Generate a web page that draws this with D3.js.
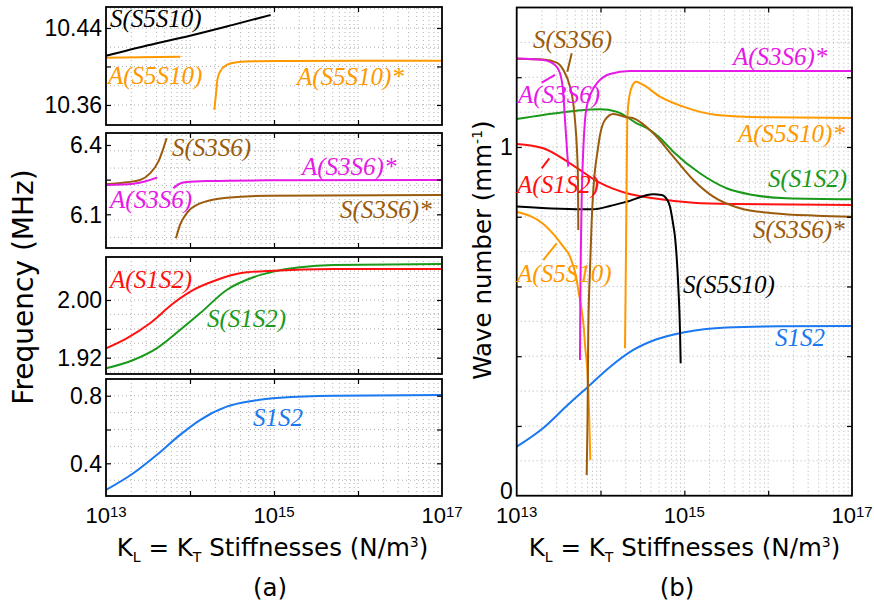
<!DOCTYPE html>
<html><head><meta charset="utf-8">
<script src="https://cdn.jsdelivr.net/npm/d3@7"></script>
<style>body{margin:0;background:#fff;} svg{display:block;}</style>
</head><body>
<svg id="chart" width="874" height="605"></svg>
<script>
// ---------- DATA: panel (a) frequency (MHz) vs log10(K) ----------
const xTickExp = [13, 14, 15, 16, 17];
const xTickLabels = ["13", "", "15", "", "17"];

// sub-panel 1 (~10.4 MHz)
const a1Ticks = [10.36, 10.40, 10.44];
const a1TickLabels = ["10.36", "", "10.44"];
const a1_S_S5S10_k = [13.0, 13.5, 14.0, 14.5, 14.96];
const a1_S_S5S10_f = [10.411, 10.422, 10.432, 10.443, 10.4535];
const a1_A_S5S10_k = [13.0, 13.4, 13.885];
const a1_A_S5S10_f = [10.409, 10.4095, 10.410];
const a1_A_S5S10s_k = [14.29, 14.31, 14.326, 14.357, 14.437, 14.556, 14.754, 15.111, 16.0, 17.0];
const a1_A_S5S10s_f = [10.355, 10.372, 10.386, 10.3946, 10.4016, 10.4044, 10.4054, 10.4057, 10.406, 10.406];

// sub-panel 2 (~6.2 MHz)
const a2Ticks = [6.1, 6.25, 6.4];
const a2TickLabels = ["6.1", "", "6.4"];
const a2_S_S3S6_k = [13.0, 13.246, 13.405, 13.524, 13.623, 13.683, 13.722];
const a2_S_S3S6_f = [6.230, 6.2385, 6.2485, 6.2773, 6.3278, 6.3855, 6.429];
const a2_A_S3S6_k = [13.0, 13.325, 13.484, 13.611];
const a2_A_S3S6_f = [6.2268, 6.2326, 6.2441, 6.260];
const a2_A_S3S6s_k = [13.802, 13.861, 13.960, 14.198, 14.913, 17.0];
const a2_A_S3S6s_f = [6.2124, 6.230, 6.240, 6.244, 6.247, 6.2485];
const a2_S_S3S6s_k = [13.833, 13.881, 13.960, 14.119, 14.437, 14.913, 17.0];
const a2_S_S3S6s_f = [5.996, 6.054, 6.104, 6.147, 6.172, 6.1805, 6.1835];

// sub-panel 3 (~2 MHz)
const a3Ticks = [1.92, 1.96, 2.00];
const a3TickLabels = ["1.92", "", "2.00"];
const a3_A_S1S2_k = [13.0, 13.246, 13.524, 13.802, 14.040, 14.317, 14.595, 14.992, 15.706, 17.0];
const a3_A_S1S2_f = [1.9330, 1.9469, 1.9677, 1.9954, 2.0139, 2.0277, 2.0370, 2.0407, 2.0430, 2.0430];
const a3_S_S1S2_k = [13.0, 13.325, 13.603, 13.881, 14.119, 14.437, 14.754, 14.992, 15.310, 15.706, 17.0];
const a3_S_S1S2_f = [1.9052, 1.9168, 1.9330, 1.9584, 1.9815, 2.0139, 2.0315, 2.0393, 2.0453, 2.0485, 2.0499];

// sub-panel 4 (~0.6 MHz)
const a4Ticks = [0.4, 0.6, 0.8];
const a4TickLabels = ["0.4", "", "0.8"];
const a4_S1S2_k = [13.0, 13.325, 13.603, 13.881, 14.119, 14.437, 14.754, 15.071, 15.706, 17.0];
const a4_S1S2_f = [0.242, 0.341, 0.449, 0.568, 0.656, 0.735, 0.770, 0.788, 0.800, 0.804];

// ---------- DATA: panel (b) wave number (1/mm) vs log10(K) ----------
const bTicks = [0, 0.2, 0.4, 0.6, 0.8, 1.0, 1.2];
const bTickLabels = ["0", "", "", "", "", "1", ""];
const b_A_S3S6_k = [13.0, 13.317, 13.457, 13.517, 13.556, 13.576, 13.603, 13.615];
const b_A_S3S6_v = [1.254, 1.2495, 1.2348, 1.2114, 1.1541, 1.0774, 0.982, 0.9435];
const b_A_S3S6s_k = [13.755, 13.759, 13.765, 13.775, 13.794, 13.815, 13.835, 13.895, 13.973, 14.113, 14.351, 15.187, 17.0];
const b_A_S3S6s_v = [0.389, 0.5612, 0.7046, 0.848, 0.9914, 1.0774, 1.1156, 1.1586, 1.1873, 1.2094, 1.218, 1.218, 1.218];
const b_S_S3S6_k = [13.0, 13.317, 13.477, 13.556, 13.636, 13.675, 13.695, 13.719, 13.731, 13.735];
const b_S_S3S6_v = [1.2532, 1.2509, 1.2418, 1.2208, 1.1729, 1.1253, 1.0774, 0.9914, 0.9054, 0.762];
const b_S_S3S6s_k = [13.835, 13.845, 13.854, 13.874, 13.895, 13.914, 13.934, 13.961, 13.994, 14.053, 14.152, 14.312, 14.391, 14.630, 14.868, 15.107, 15.345, 15.664, 16.061, 16.579, 17.0];
const b_S_S3S6s_v = [0.0594, 0.2171, 0.4752, 0.6473, 0.7906, 0.8767, 0.934, 0.9819, 1.0344, 1.0774, 1.0946, 1.0852, 1.0823, 1.0393, 0.9722, 0.9054, 0.8575, 0.8242, 0.8099, 0.803, 0.8001];
const b_S_S1S2_k = [13.0, 13.317, 13.716, 13.994, 14.193, 14.432, 14.590, 14.710, 14.868, 15.186, 15.504, 15.822, 16.221, 17.0];
const b_S_S1S2_v = [1.0803, 1.0918, 1.1041, 1.1081, 1.1012, 1.068, 1.0488, 1.0258, 0.9865, 0.9246, 0.8816, 0.8623, 0.8529, 0.85];
const b_A_S1S2_k = [13.0, 13.317, 13.636, 13.994, 14.312, 14.630, 15.107, 15.584, 17.0];
const b_A_S1S2_v = [1.0086, 0.9963, 0.9533, 0.8968, 0.8672, 0.8529, 0.8403, 0.8365, 0.8337];
const b_S_S5S10_k = [13.0, 13.517, 13.914, 14.113, 14.312, 14.630, 14.730, 14.789, 14.829, 14.868, 14.888, 14.928, 14.948, 14.956];
const b_S_S5S10_v = [0.8294, 0.8228, 0.8213, 0.8308, 0.8431, 0.8644, 0.8624, 0.8509, 0.8288, 0.7763, 0.7428, 0.5994, 0.4752, 0.3797];
const b_A_S5S10_k = [13.0, 13.317, 13.556, 13.636, 13.716, 13.735, 13.775, 13.803, 13.815, 13.842, 13.866, 13.878];
const b_A_S5S10_v = [0.8145, 0.7792, 0.7141, 0.6854, 0.6186, 0.5899, 0.5326, 0.4752, 0.4322, 0.3605, 0.2171, 0.1024];
const b_A_S5S10s_k = [14.292, 14.304, 14.312, 14.319, 14.343, 14.384, 14.423, 14.510, 14.709, 14.987, 15.386, 15.982, 17.0];
const b_A_S5S10s_v = [0.4227, 0.7046, 0.9054, 1.0774, 1.1443, 1.1778, 1.1873, 1.1778, 1.1443, 1.1156, 1.0918, 1.0852, 1.0832];
const b_S1S2_k = [13.0, 13.317, 13.596, 13.835, 14.113, 14.391, 14.670, 14.987, 15.505, 16.141, 17.0];
const b_S1S2_v = [0.1405, 0.1941, 0.2572, 0.3089, 0.3691, 0.4179, 0.4485, 0.468, 0.4824, 0.4858, 0.4867];

// ---------- STYLE ----------
const C = {black:"#000000", orange:"#ff9900", magenta:"#e619e6", brown:"#9a5b0c", red:"#ff1111", green:"#1a991a", blue:"#1a78f0"};
const SANS = "'DejaVu Sans', sans-serif";
const TICKF = "'Liberation Sans', Arial, sans-serif";
const SERIF = "'Liberation Serif', 'DejaVu Serif', serif";

const svg = d3.select("#chart");
const zip = (k, v) => k.map((d, i) => ({k: d, v: v[i]}));

// ---------- panel definitions ----------
const xA = d3.scaleLinear().domain([13, 17]).range([106, 442]);
const xB = d3.scaleLinear().domain([13, 17]).range([516.7, 852]);

const panels = [
  {x: xA, y: d3.scaleLinear().domain([10.3392, 10.4618]).range([125, 7]), ticks: a1Ticks, tl: a1TickLabels, gstep: 0.02, xlabels: false,
   series: [
     {c: C.black, d: zip(a1_S_S5S10_k, a1_S_S5S10_f)},
     {c: C.orange, d: zip(a1_A_S5S10_k, a1_A_S5S10_f)},
     {c: C.orange, d: zip(a1_A_S5S10s_k, a1_A_S5S10s_f)}],
   labels: [
     {t: "S(S5S10)", c: C.black, k: 13.048, v: 10.441},
     {t: "A(S5S10)", c: C.orange, k: 13.024, v: 10.3818},
     {t: "A(S5S10)*", c: C.orange, k: 15.274, v: 10.3803}]},
  {x: xA, y: d3.scaleLinear().domain([5.9541, 6.4519]).range([248, 133]), ticks: a2Ticks, tl: a2TickLabels, gstep: 0.075, xlabels: false,
   series: [
     {c: C.brown, d: zip(a2_S_S3S6_k, a2_S_S3S6_f)},
     {c: C.brown, d: zip(a2_S_S3S6s_k, a2_S_S3S6s_f)},
     {c: C.magenta, d: zip(a2_A_S3S6_k, a2_A_S3S6_f)},
     {c: C.magenta, d: zip(a2_A_S3S6s_k, a2_A_S3S6s_f)}],
   labels: [
     {t: "S(S3S6)", c: C.brown, k: 13.786, v: 6.3545},
     {t: "A(S3S6)*", c: C.magenta, k: 15.333, v: 6.268},
     {t: "A(S3S6)", c: C.magenta, k: 13.048, v: 6.1294},
     {t: "S(S3S6)*", c: C.brown, k: 15.786, v: 6.0818}]},
  {x: xA, y: d3.scaleLinear().domain([1.8974, 2.0596]).range([374, 257]), ticks: a3Ticks, tl: a3TickLabels, gstep: 0.02, xlabels: false,
   series: [
     {c: C.green, d: zip(a3_S_S1S2_k, a3_S_S1S2_f)},
     {c: C.red, d: zip(a3_A_S1S2_k, a3_A_S1S2_f)}],
   labels: [
     {t: "A(S1S2)", c: C.red, k: 13.048, v: 2.016},
     {t: "S(S1S2)", c: C.green, k: 14.202, v: 1.9619}]},
  {x: xA, y: d3.scaleLinear().domain([0.2065, 0.8988]).range([496, 379]), ticks: a4Ticks, tl: a4TickLabels, gstep: 0.1, xlabels: true,
   series: [
     {c: C.blue, d: zip(a4_S1S2_k, a4_S1S2_f)}],
   labels: [
     {t: "S1S2", c: C.blue, k: 14.75, v: 0.6207}]},
  {x: xB, y: d3.scaleLinear().domain([0, 1.4]).range([495.7, 7.5]), ticks: bTicks, tl: bTickLabels, gstep: 0.1, xlabels: true,
   series: [
     {c: C.blue, d: zip(b_S1S2_k, b_S1S2_v)},
     {c: C.red, d: zip(b_A_S1S2_k, b_A_S1S2_v)},
     {c: C.green, d: zip(b_S_S1S2_k, b_S_S1S2_v)},
     {c: C.black, d: zip(b_S_S5S10_k, b_S_S5S10_v)},
     {c: C.orange, d: zip(b_A_S5S10_k, b_A_S5S10_v)},
     {c: C.orange, d: zip(b_A_S5S10s_k, b_A_S5S10s_v)},
     {c: C.brown, d: zip(b_S_S3S6_k, b_S_S3S6_v)},
     {c: C.brown, d: zip(b_S_S3S6s_k, b_S_S3S6s_v)},
     {c: C.magenta, d: zip(b_A_S3S6_k, b_A_S3S6_v)},
     {c: C.magenta, d: zip(b_A_S3S6s_k, b_A_S3S6s_v)}],
   labels: [
     {t: "S(S3S6)", c: C.brown, k: 13.194, v: 1.2839},
     {t: "A(S3S6)*", c: C.magenta, k: 15.58, v: 1.2337},
     {t: "A(S3S6)", c: C.magenta, k: 13.016, v: 1.1248},
     {t: "A(S5S10)*", c: C.orange, k: 15.64, v: 1.0129},
     {t: "A(S1S2)", c: C.red, k: 13.004, v: 0.8667},
     {t: "S(S1S2)", c: C.green, k: 15.998, v: 0.8839},
     {t: "S(S3S6)*", c: C.brown, k: 15.819, v: 0.7376},
     {t: "A(S5S10)", c: C.orange, k: 13.004, v: 0.6114},
     {t: "S(S5S10)", c: C.black, k: 14.985, v: 0.5827},
     {t: "S1S2", c: C.blue, k: 16.081, v: 0.4293}],
   leaders: [
     {c: C.brown, k1: 13.656, v1: 1.2687, k2: 13.604, v2: 1.216},
     {c: C.magenta, k1: 13.298, v1: 1.1844, k2: 13.457, v2: 1.2065},
     {c: C.red, k1: 13.298, v1: 0.9389, k2: 13.389, v2: 0.9676},
     {c: C.orange, k1: 13.317, v1: 0.6759, k2: 13.477, v2: 0.7238}]}
];

// minor log positions for vertical grid
const logGrid = [];
for (let d = 13; d < 17; d++) for (let m = 1; m <= 9; m++) logGrid.push(d + Math.log10(m));

panels.forEach((p, i) => {
  const [x0, x1] = p.x.range();
  const [y0, y1] = p.y.range(); // y0 bottom, y1 top
  const g = svg.append("g");
  const clipId = "clip" + i;
  svg.append("clipPath").attr("id", clipId).append("rect")
    .attr("x", x0).attr("y", y1).attr("width", x1 - x0).attr("height", y0 - y1);

  // grid
  const grid = g.append("g").attr("stroke", "#b0b0b0").attr("stroke-width", 1).attr("stroke-dasharray", "1,3");
  grid.selectAll(".vg").data(logGrid.filter(v => v > 13.001)).enter().append("line")
    .attr("x1", d => p.x(d)).attr("x2", d => p.x(d)).attr("y1", y0).attr("y2", y1);
  const dom = p.y.domain();
  const hv = d3.range(Math.ceil(dom[0] / p.gstep - 1e-6), Math.floor(dom[1] / p.gstep + 1e-6) + 1).map(n => +(n * p.gstep).toFixed(4));
  grid.selectAll(".hg").data(hv.filter(v => Math.abs(p.y(v) - y0) > 1 && Math.abs(p.y(v) - y1) > 1)).enter().append("line")
    .attr("x1", x0).attr("x2", x1).attr("y1", d => p.y(d)).attr("y2", d => p.y(d));

  // curves
  const line = d3.line().x(d => p.x(d.k)).y(d => p.y(d.v)).curve(d3.curveMonotoneX);
  const cg = g.append("g").attr("clip-path", `url(#${clipId})`);
  p.series.forEach(s => {
    cg.append("path").attr("d", line(s.d)).attr("fill", "none").attr("stroke", s.c).attr("stroke-width", 2);
  });
  (p.leaders || []).forEach(l => {
    cg.append("line").attr("x1", p.x(l.k1)).attr("y1", p.y(l.v1)).attr("x2", p.x(l.k2)).attr("y2", p.y(l.v2))
      .attr("stroke", l.c).attr("stroke-width", 2);
  });

  // axes ticks (inward, all sides)
  const ax = (gen, tx, ty) => g.append("g").attr("transform", `translate(${tx},${ty})`).call(gen)
    .call(s => s.select(".domain").remove()).call(s => s.selectAll("text").remove())
    .call(s => s.selectAll("line").attr("stroke", "#000").attr("stroke-width", 1.2));
  ax(d3.axisBottom(p.x).tickValues(xTickExp.slice(1, -1)).tickSize(-5), 0, y0);
  ax(d3.axisTop(p.x).tickValues(xTickExp.slice(1, -1)).tickSize(-5), 0, y1);
  const innerY = p.ticks.filter(v => Math.abs(p.y(v) - y0) > 1);
  ax(d3.axisLeft(p.y).tickValues(innerY).tickSize(-5), x0, 0);
  ax(d3.axisRight(p.y).tickValues(innerY).tickSize(-5), x1, 0);

  // frame
  g.append("rect").attr("x", x0).attr("y", y1).attr("width", x1 - x0).attr("height", y0 - y1)
    .attr("fill", "none").attr("stroke", "#000").attr("stroke-width", 1.8);

  // y tick labels
  g.selectAll(".yl").data(p.ticks.map((v, j) => ({v, t: p.tl[j]})).filter(d => d.t)).enter().append("text")
    .attr("x", x0 - 4).attr("y", d => p.y(d.v) - (d.v === 0 ? 5 : 0)).attr("dy", "0.36em").attr("text-anchor", "end")
    .attr("font-family", TICKF).attr("font-size", 23).text(d => d.t);

  // x tick labels
  if (p.xlabels) {
    xTickExp.forEach((e, j) => {
      if (!xTickLabels[j]) return;
      const t = g.append("text").attr("x", p.x(e)).attr("y", y0 + 27).attr("text-anchor", "middle")
        .attr("font-family", TICKF).attr("font-size", 22);
      t.append("tspan").text("10");
      t.append("tspan").attr("dy", -6).attr("font-size", 15).text(xTickLabels[j]);
    });
  }

  // curve labels
  g.selectAll(".cl").data(p.labels).enter().append("text")
    .attr("x", d => p.x(d.k)).attr("y", d => p.y(d.v))
    .attr("font-family", SERIF).attr("font-style", "italic").attr("font-size", 25)
    .attr("fill", d => d.c).text(d => d.t);
});

// axis titles
function xTitle(cx) {
  const t = svg.append("text").attr("x", cx).attr("y", 556).attr("text-anchor", "middle")
    .attr("font-family", SANS).attr("font-size", 24.5);
  t.append("tspan").text("K");
  t.append("tspan").attr("dy", 6).attr("font-size", 14).text("L");
  t.append("tspan").attr("dy", -6).text(" = K");
  t.append("tspan").attr("dy", 6).attr("font-size", 14).text("T");
  t.append("tspan").attr("dy", -6).text(" Stiffnesses (N/m");
  t.append("tspan").attr("dy", -9).attr("font-size", 14).text("3");
  t.append("tspan").attr("dy", 9).text(")");
}
xTitle(272.5);
xTitle(684.5);

svg.append("text").attr("transform", "translate(33,287) rotate(-90)").attr("text-anchor", "middle")
  .attr("font-family", SANS).attr("font-size", 28).text("Frequency (MHz)");
const wt = svg.append("text").attr("transform", "translate(491,250) rotate(-90)").attr("text-anchor", "middle")
  .attr("font-family", SANS).attr("font-size", 24.5);
wt.append("tspan").text("Wave number (mm");
wt.append("tspan").attr("dy", -9).attr("font-size", 14).text("-1");
wt.append("tspan").attr("dy", 9).text(")");

svg.append("text").attr("x", 270).attr("y", 596).attr("text-anchor", "middle")
  .attr("font-family", SANS).attr("font-size", 24.5).text("(a)");
svg.append("text").attr("x", 677).attr("y", 596).attr("text-anchor", "middle")
  .attr("font-family", SANS).attr("font-size", 24.5).text("(b)");
</script></body></html>
